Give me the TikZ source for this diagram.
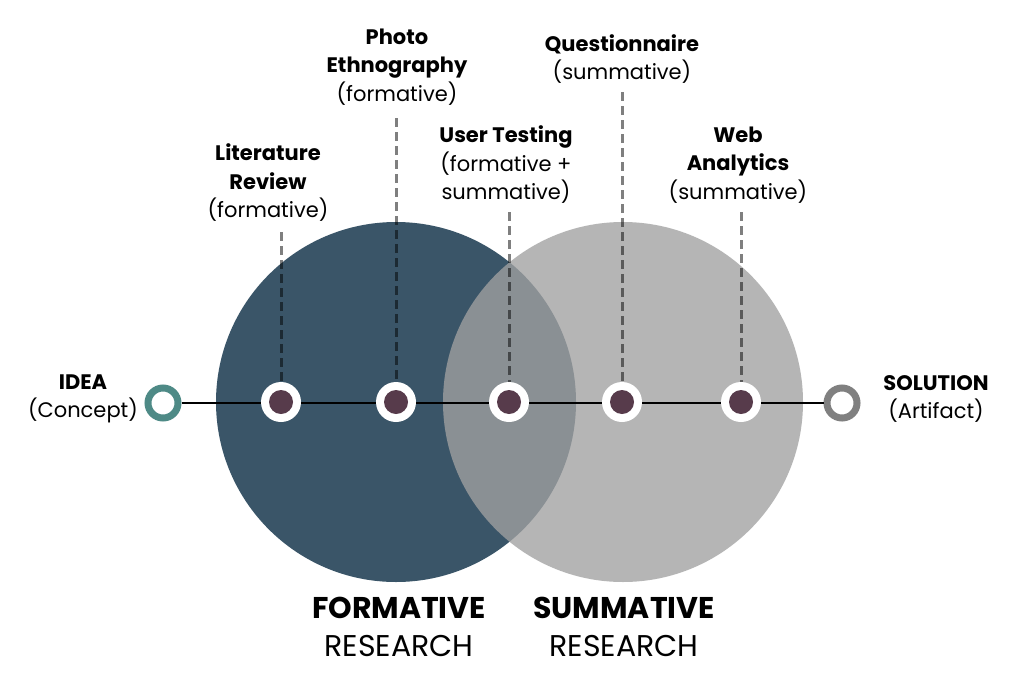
\documentclass[tikz,border=0pt]{standalone}
\usepackage{fontspec}
\setmainfont{Poppins}
\definecolor{formblue}{HTML}{3A5568}
\definecolor{sumgray}{RGB}{161,161,161}
\definecolor{dotpurple}{HTML}{573B4B}
\definecolor{ideateal}{HTML}{4E8A86}
\definecolor{solgray}{HTML}{808080}
\tikzset{
  bigcircle/.style={circle, inner sep=0pt, minimum size=360pt},
  label/.style={align=center, inner sep=0pt, font=\fontsize{21}{28.5}\selectfont},
  bigtitle/.style={align=center, inner sep=0pt, font=\fontsize{30}{38}\selectfont},
  dashline/.style={draw=black, draw opacity=0.5, line width=3pt, dash pattern=on 9pt off 5pt},
  mainline/.style={draw=black, line width=2.5pt},
  dotnode/.style={circle, fill=white, minimum size=40pt, inner sep=0pt,
    path picture={\fill[dotpurple] (path picture bounding box.center) circle (12pt);}},
  ringnode/.style={circle, line width=7pt, fill=white, minimum size=30pt, inner sep=0pt},
}
\begin{document}
\begin{tikzpicture}[x=1pt,y=-1pt]
\useasboundingbox (0,0) rectangle (1024,677);
\fill[white] (0,0) rectangle (1024,677);

% circles
\node[bigcircle, fill=formblue] (form) at (396,402) {};
\node[bigcircle, fill=sumgray, fill opacity=0.78] (summ) at (623,402) {};

% labels
\node[label] (lit) at (268,183) {\textbf{Literature}\\\textbf{Review}\\(formative)};
\node[label] (photo) at (397,67) {\textbf{Photo}\\\textbf{Ethnography}\\(formative)};
\node[label] (user) at (506,165) {\textbf{User Testing}\\(formative +\\summative)};
\node[label] (quest) at (622,59) {\textbf{Questionnaire}\\(summative)};
\node[label] (web) at (738,165) {\textbf{Web}\\\textbf{Analytics}\\(summative)};
\node[label] (idealab) at (83,399) {\textbf{IDEA}\\(Concept)};
\node[label] (sollab) at (936,399) {\textbf{SOLUTION}\\(Artifact)};
\node[bigtitle] (formtitle) at (399,627) {\textbf{FORMATIVE}\\RESEARCH};
\node[bigtitle] (sumtitle) at (624,627) {\textbf{SUMMATIVE}\\RESEARCH};

% dot positions
\coordinate (p1) at (281,402);
\coordinate (p2) at (396,402);
\coordinate (p3) at (509,402);
\coordinate (p4) at (622,402);
\coordinate (p5) at (741,402);

% dashed connector tops
\coordinate (t1) at (281,232);
\coordinate (t2) at (396,118);
\coordinate (t3) at (509,212);
\coordinate (t4) at (622,92);
\coordinate (t5) at (741,212);

\draw[dashline] (t1) -- (p1);
\draw[dashline] (t2) -- (p2);
\draw[dashline] (t3) -- (p3);
\draw[dashline] (t4) -- (p4);
\draw[dashline] (t5) -- (p5);

% end rings
\node[ringnode, draw=ideateal] (idea) at (163,403) {};
\node[ringnode, draw=solgray] (sol) at (842,403) {};

\draw[mainline] (idea) -- (sol);

% dots
\node[dotnode] (d1) at (p1) {};
\node[dotnode] (d2) at (p2) {};
\node[dotnode] (d3) at (p3) {};
\node[dotnode] (d4) at (p4) {};
\node[dotnode] (d5) at (p5) {};
\end{tikzpicture}
\end{document}
